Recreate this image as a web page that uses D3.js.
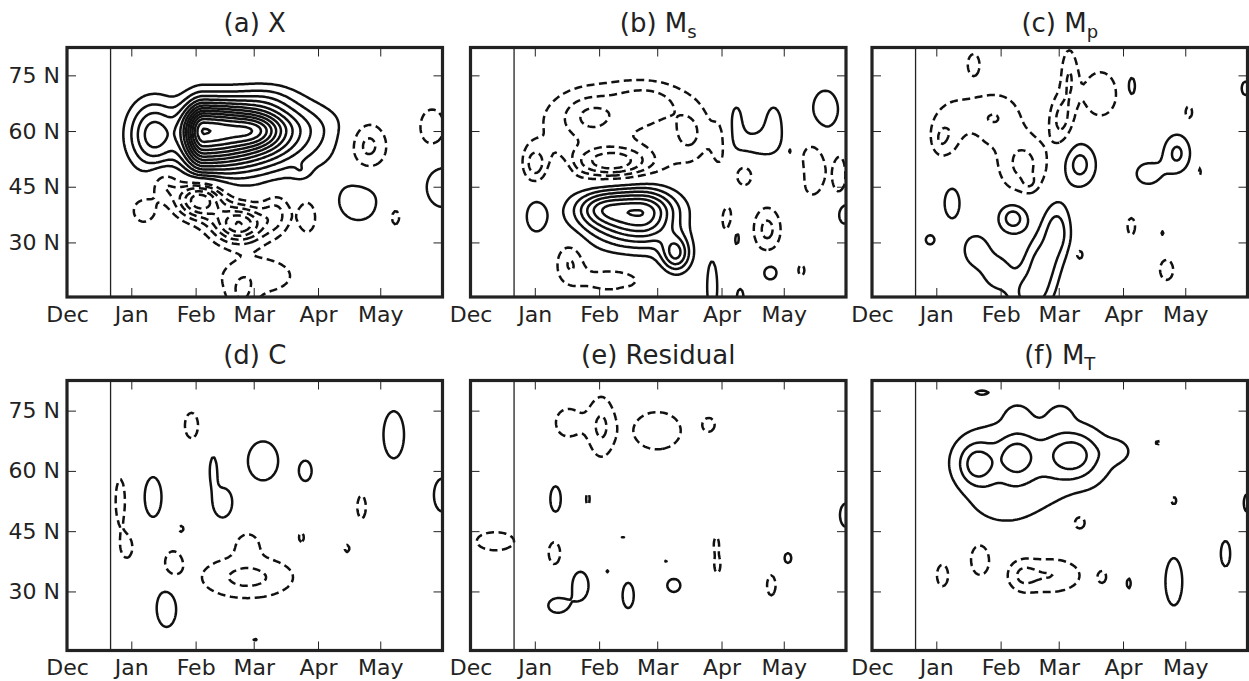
<!DOCTYPE html>
<html>
<head>
<meta charset="utf-8">
<style>
  body { margin: 0; background: #fff; }
  svg { display: block; font-family: "DejaVu Sans", sans-serif; }
  .pos { fill: none; stroke: #111; stroke-width: 2.5; stroke-linejoin: round; }
  .neg { fill: none; stroke: #111; stroke-width: 2.5; stroke-dasharray: 8,4.5; }
  .tick line { stroke: #222; stroke-width: 1; }
  .tick text { font-size: 22px; fill: #222; font-family: "DejaVu Sans", sans-serif; }
</style>
</head>
<body>
<svg width="1249" height="681"></svg>
<script src="https://d3js.org/d3.v7.min.js"></script>
<script>

var monthNames = ["Dec", "Jan", "Feb", "Mar", "Apr", "May"];
var monthStarts = [0, 31, 62, 90, 121, 151];   // days since 1 Dec
var latTicks = [30, 45, 60, 75];
var solsticeDay = 21;
var titles = [["(a) X", ""], ["(b) M", "s"], ["(c) M", "p"],
              ["(d) C", ""], ["(e) Residual", ""], ["(f) M", "T"]];

// anomaly centres:
// [day, lat, sigmaDay, sigmaLat, amp]  or  [day, lat, sdWest, sdEast, slSouth, slNorth, amp]
var blobsX = [
  [66, 60, 7, 30, 7, 5.5, 13], [42, 59, 8.5, 6.3, 4.6], [92, 60, 8, 3, 2.5], [97, 69, 10, 3, 1],
  [113, 49, 3, 1.5, 0.8], [140.5, 41, 10, 5.5, 1.5], [181, 45, 7, 5, 1.8],
  [64, 41.5, 8, 3.5, -6], [83, 35, 9, 3.5, -6], [47, 46, 5, 3, -2], [37, 38.5, 5, 3, -1.6],
  [101, 38, 5, 4, -2], [116, 37, 4, 4, -1.7],
  [92, 21, 16, 4.5, -1.6], [84, 15, 5, 4, -1.5], [145, 56, 7, 5, -2.6], [176, 61, 6, 5, -1.6],
  [158, 37, 3.5, 3.5, -1.4]
];
var blobsMs = [
  [82, 38, 18, 12, 6, 4.5, 7], [62, 39, 8, 3, 2], [99, 27, 5, 3.5, 4], [31.5, 37, 4.5, 4, 1.5],
  [44, 49, 4, 3, 1.3], [128, 63, 3.5, 5, 1.5], [146, 62, 4, 5, 1.5], [137, 56.5, 8, 3, 1.5],
  [171, 65.5, 7, 6, 1.5], [154, 54.5, 1, 1, 1.05], [128, 31.6, 2.5, 3.5, 1.4], [144.5, 22, 4, 2.5, 1.4],
  [116.5, 18, 2.5, 7, 1.6], [130, 15, 2, 3, 1.4], [158.7, 48, 1.3, 2.5, 1.3], [180, 38, 3, 3, 1.8],
  [154, 32.5, 1, 1, 1.05], [172.5, 26.7, 1, 1, 1.05], [74, 15.5, 2, 1, 1.3],
  [68, 51.5, 14, 3, -4], [31, 51, 4, 3.5, -2.2], [70, 62, 28, 8, -2], [57, 64, 9, 4, -1.5],
  [85, 68, 12, 3.5, -1.5], [106, 59, 6, 5, -1.5], [120, 56, 3, 5, -1.2], [165, 50, 5, 6, -2],
  [178, 48, 3, 6, -1.5], [132, 48, 4, 3, -1.4], [124, 36, 3, 4, -1.5], [143, 33.5, 5, 4.5, -2.3],
  [159.5, 22.5, 2, 2, -1.3], [48, 25, 5, 4, -2], [68, 20, 14, 3, -1.5]
];
var blobsMp = [
  [47, 55, 3.5, 3.5, 1.5], [100, 51, 6, 4.5, 2.4], [125, 72, 2.5, 3.5, 1.5], [133, 48.5, 6, 3, 1.5],
  [147, 54, 5, 4, 2.2], [38.6, 40.6, 4, 4.5, 1.5], [28, 30.7, 2.5, 1.5, 1.4], [68, 36.6, 5.2, 3, 2.6],
  [89, 33, 5, 5, 5, 6, 2.5], [82, 24, 6, 5, 2.5], [76, 16, 7, 4, 2.3], [50, 28, 5, 3.5, 1.7], [60, 22, 6, 4, 1.5],
  [140, 32.5, 1, 0.8, 1.2], [180, 71.5, 2, 2, 1.5],
  [49, 78, 3, 3, -1.5], [40, 61, 9, 6, -1.8], [33, 57.5, 3, 3, -1.0], [60, 64, 9, 5, -1.8],
  [73, 51, 9, 6, -2.3], [76, 46, 2.5, 1.5, -0.8], [91, 63, 4, 5, -2.2], [95, 75, 3, 6, -1.8],
  [110, 70, 8, 6, -1.6], [152.7, 65, 2, 2, -1.4], [158, 49, 1, 1.5, -1.3], [100, 26.7, 2, 1.5, -1.4],
  [125, 34.3, 2, 2.5, -1.5], [142, 22.6, 3.5, 3, -1.5]
];
var blobsC = [
  [41.5, 53.5, 4.5, 5.5, 1.5], [70.5, 60.5, 1.8, 3.5, 1.4], [75, 52, 5, 4, 1.5], [94.5, 62.5, 7.5, 5, 1.6],
  [115, 60, 3.2, 2.7, 1.5], [157.5, 69, 5.5, 6.5, 1.5], [181, 54, 4, 4, 1.7], [48, 26, 5, 5, 1.6],
  [90.7, 18, 1.2, 0.5, 1.2],
  [60, 71.3, 3.5, 3.5, -1.5], [25.7, 52.5, 2.5, 6, -1.5], [29, 41, 3, 3, -1.4], [55, 45.6, 1.5, 1, -1.3],
  [87, 33.5, 17, 4, -2.3], [51, 37, 4, 3, -1.6], [87, 42, 5, 2.5, -1.4], [113, 43.5, 1.5, 1.5, -1.3],
  [142, 51, 2.5, 3.5, -1.4], [135, 40.7, 1.5, 1.2, -1.3]
];
var blobsRes = [
  [41, 53, 2.8, 3.5, 1.5], [73.5, 43.4, 1, 0.6, 1.15], [66, 35, 1, 0.6, 1.15], [94.4, 37.6, 1, 0.6, 1.15],
  [53, 31.5, 4, 3.5, 1.6], [42, 26.5, 5, 2, 1.5], [76, 29, 3, 3.5, 1.5], [98, 31.5, 3.5, 1.8, 1.5],
  [153, 38.3, 2, 1.5, 1.4], [181, 49, 3, 3, 1.6],
  [47, 72, 6, 3.5, -1.6], [63, 71, 5, 6, -2.1], [90, 70, 11, 4.5, -1.7], [115, 71.5, 3, 1.8, -1.4],
  [56.6, 53, 1.2, 2, -1.3], [12, 42.5, 10, 2.5, -1.5], [40.5, 39.5, 3, 3, -1.5],
  [118.5, 42, 1.5, 2, -1.3], [119, 36.5, 2, 2.5, -1.3], [145, 31.5, 2.5, 3, -1.4]
];
var blobsMT = [
  [77, 62.5, 30, 9, 1.9], [50.5, 61.7, 6, 3.6, 2.5], [69.5, 63.5, 6, 3.6, 2.0], [97, 64, 8.5, 3.8, 2.3],
  [63, 51, 12, 4, 0.8], [70, 74, 4, 2, 0.8], [91, 74, 4, 2, 0.8], [118, 65, 5, 2, 0.8],
  [53, 79.5, 3, 0.5, 1.3], [123.8, 32, 1.2, 1.5, 1.4], [145.5, 32.4, 4.5, 6.5, 1.5],
  [170.4, 39.4, 2.5, 3.5, 1.5], [181, 52, 2, 2.5, 1.5],
  [137.5, 67, 2, 1.5, -1.3], [145.5, 52.6, 2, 1.5, -1.3], [100, 47.5, 5, 3, -1.5],
  [34, 34, 3, 3, -1.5], [52, 38, 4, 3.5, -1.8], [86, 34, 12, 3.5, -2], [72, 34, 5, 3, -1.3],
  [111, 33.6, 2, 1.5, -1.3]
];
var panelBlobs = [blobsX, blobsMs, blobsMp, blobsC, blobsRes, blobsMT];
var levels = d3.range(1, 16);

var svg = d3.select("svg");
var colX = [67, 470.5, 872], panelW = 375.5;
var rowY = [[47.5, 297], [380.5, 650.5]];
var titleY = [32, 364];

// grid for the contour field
var dayStep = 1, latStep = 0.5, latTop = 83, latBottom = 15;
var nx = 183, ny = Math.round((latTop - latBottom) / latStep) + 1;

function field(blobs) {
  var bs = blobs.map(function(b) {
    return b.length === 5 ? [b[0], b[1], b[2], b[2], b[3], b[3], b[4]] : b;
  });
  var vals = new Array(nx * ny);
  for (var j = 0; j < ny; j++) {
    var lat = latTop - j * latStep;
    for (var i = 0; i < nx; i++) {
      var t = i * dayStep, s = 0;
      for (var k = 0; k < bs.length; k++) {
        var a = bs[k];
        var u = (t - a[0]) / (t < a[0] ? a[2] : a[3]);
        var v = (lat - a[1]) / (lat < a[1] ? a[4] : a[5]);
        s += a[6] * Math.exp(-0.5 * (u * u + v * v));
      }
      vals[j * nx + i] = s;
    }
  }
  return vals;
}

var gen = d3.contours().size([nx, ny]).thresholds(levels);

panelBlobs.forEach(function(blobs, p) {
  var col = p % 3, row = Math.floor(p / 3);
  var x0 = colX[col], x1 = colX[col] + panelW, y0 = rowY[row][0], y1 = rowY[row][1];

  var x = d3.scaleLinear().domain([0, 181]).range([x0, x1]);
  var y = d3.scaleLinear().domain([15.3, 82.5]).range([y1, y0]);

  var g = svg.append("g");
  svg.append("clipPath").attr("id", "clip" + p)
    .append("rect").attr("x", x0).attr("y", y0).attr("width", x1 - x0).attr("height", y1 - y0);

  var proj = d3.geoTransform({
    point: function(gx, gy) {
      this.stream.point(x((gx - 0.5) * dayStep), y(latTop - (gy - 0.5) * latStep));
    }
  });
  var path = d3.geoPath(proj);

  var vals = field(blobs);
  var neg = vals.map(function(v) { return -v; });

  var cg = g.append("g").attr("clip-path", "url(#clip" + p + ")");
  cg.selectAll("path.pos").data(gen(vals)).enter().append("path")
      .attr("class", "pos").attr("d", path);
  cg.selectAll("path.neg").data(gen(neg)).enter().append("path")
      .attr("class", "neg").attr("d", path);

  // solstice line
  g.append("line")
      .attr("x1", x(solsticeDay)).attr("x2", x(solsticeDay))
      .attr("y1", y0).attr("y2", y1)
      .attr("stroke", "#222").attr("stroke-width", 1.3);

  // axes, ticks pointing inward
  g.append("g").attr("transform", "translate(0," + y1 + ")")
      .call(d3.axisBottom(x).tickValues(monthStarts).tickSizeInner(-9).tickSizeOuter(0)
        .tickPadding(9).tickFormat(function(d, i) { return monthNames[i]; }));
  g.append("g").attr("transform", "translate(0," + y0 + ")")
      .call(d3.axisTop(x).tickValues(monthStarts).tickSizeInner(-9).tickSizeOuter(0).tickFormat(""));
  g.append("g").attr("transform", "translate(" + x1 + ",0)")
      .call(d3.axisRight(y).tickValues(latTicks).tickSizeInner(-9).tickSizeOuter(0).tickFormat(""));
  g.append("g").attr("transform", "translate(" + x0 + ",0)")
      .call(d3.axisLeft(y).tickValues(latTicks).tickSizeInner(-9).tickSizeOuter(0).tickPadding(7)
        .tickFormat(function(d) { return col === 0 ? d + " N" : ""; }));
  g.selectAll(".domain").remove();

  // frame
  g.append("rect")
      .attr("x", x0).attr("y", y0).attr("width", x1 - x0).attr("height", y1 - y0)
      .attr("fill", "none").attr("stroke", "#222").attr("stroke-width", 3.2);

  // title
  var t = g.append("text")
      .attr("x", (x0 + x1) / 2).attr("y", titleY[row])
      .attr("text-anchor", "middle")
      .attr("font-size", 26).attr("fill", "#222")
      .text(titles[p][0]);
  if (titles[p][1]) {
    t.append("tspan").attr("font-size", 18).attr("dy", 6).text(titles[p][1]);
  }
});

</script>
</body>
</html>
